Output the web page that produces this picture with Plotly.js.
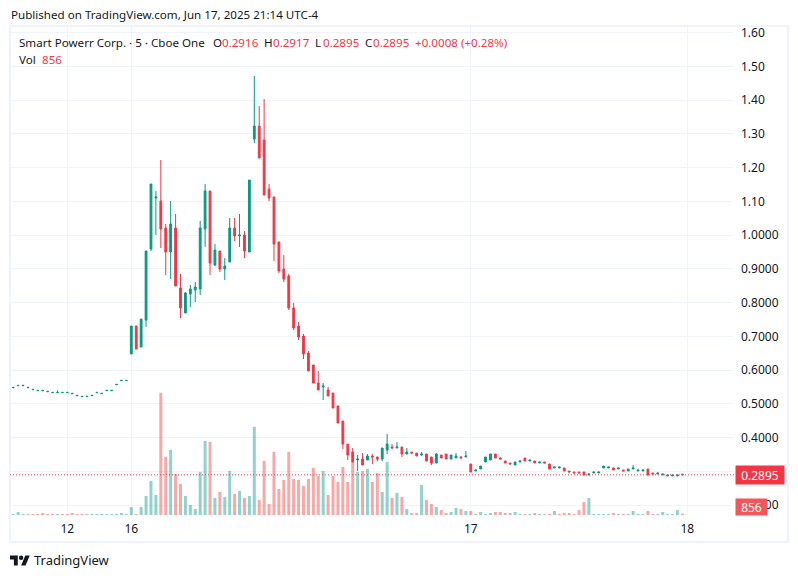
<!DOCTYPE html>
<html><head><meta charset="utf-8">
<script src="https://cdn.plot.ly/plotly-3.0.1.min.js"></script>
<style>html,body{margin:0;padding:0;background:#fff;width:798px;height:578px;overflow:hidden}#c{width:798px;height:578px}
#logo{position:absolute;left:10px;top:555px;width:20px;height:11px}</style>
</head><body><div id="c"></div>
<svg id="logo" viewBox="0 4 36 18"><path d="M14 22H7V11H0V4h14v18zM28 22h-8l7.5-18h8L28 22z" fill="#131722"/><circle cx="20" cy="8" r="4" fill="#131722"/></svg>
<script>
// Bars are counted from the first bar of the 16th (bar 0); the first bar drawn is -24.
var firstBar = -24;
var open = [
.5476,.5536,.5536,.5476,.5417,.5388,.5388,.5358,.5328,.5328,
.5328,.5328,.5299,.5239,.5210,.5210,.5239,.5328,.5299,.5388,
.5388,.5565,.5684,.5684,
.6475,.7305,.6683,.7483,.9586,1.1097,1.1009,1.0209,.9497,1.0209,
.8431,.7690,.8253,.8371,.8401,1.0179,1.1305,.9112,.9527,.8994,
.9201,1.0209,.9972,1.0001,.9497,1.2846,1.3231,1.2816,1.1364,1.1127,
.9794,.8994,.8786,.7838,.7305,.7009,.6505,.6150,.5616,.5498,
.5409,.5320,.4935,.4490,.3809,.3572,.3335,.3364,.3335,.3453,
.3424,.3364,.3631,.3720,.3690,.3720,.3512,.3572,.3542,.3483,
.3512,.3424,.3246,.3483,.3512,.3364,.3394,.3424,.3424,.3216,
.3009,.3068,.3276,.3335,.3513,.3394,.3305,.3246,.3187,.3276,
.3394,.3305,.3305,.3246,.3276,.3216,.3098,.3098,.3098,.3009,
.2979,.2979,.2979,.2890,.2950,.2950,.3098,.3098,.3098,.3068,
.3039,.3009,.3068,.3009,.3009,.3068,.2950,.2920,.2890,.2861,
.2861,.2861,.2916];
var high = [
.5486,.5546,.5546,.5486,.5427,.5398,.5398,.5368,.5338,.5398,
.5338,.5338,.5309,.5249,.5220,.5220,.5249,.5338,.5309,.5398,
.5398,.5575,.5694,.5694,
.7305,.7305,.7512,.9527,1.1512,1.1305,1.2223,1.0327,1.1009,1.0623,
.8846,.8312,.8520,.8609,1.0416,1.1512,1.1305,.9734,.9527,.9320,
1.0505,1.0505,1.0623,1.0120,1.1631,1.4712,1.3823,1.4031,1.1512,1.1127,
.9794,.9408,.8846,.7986,.7423,.7068,.6564,.6150,.5972,.5616,
.5498,.5320,.4935,.4490,.3809,.3690,.3483,.3542,.3512,.3512,
.3424,.3690,.4105,.3809,.3868,.3720,.3690,.3572,.3542,.3572,
.3512,.3424,.3542,.3483,.3512,.3483,.3542,.3453,.3601,.3216,
.3039,.3157,.3424,.3513,.3513,.3424,.3305,.3246,.3276,.3305,
.3394,.3335,.3305,.3276,.3276,.3216,.3127,.3127,.3098,.3009,
.2979,.2979,.2979,.2920,.2979,.2979,.3157,.3127,.3098,.3098,
.3039,.3068,.3187,.3039,.3039,.3068,.2950,.2950,.2920,.2890,
.2890,.2890,.2917];
var low = [
.5476,.5536,.5536,.5476,.5417,.5388,.5388,.5358,.5328,.5328,
.5328,.5328,.5299,.5239,.5210,.5210,.5239,.5328,.5299,.5388,
.5388,.5565,.5684,.5684,
.6475,.6623,.6683,.7275,.9527,1.0001,.9616,.8816,.8697,.8490,
.7542,.7690,.7868,.8016,.8223,.9646,.8816,.9083,.8905,.8668,
.9201,.9823,.9646,.9320,.9497,1.2727,1.2283,1.1186,1.1009,.9231,
.8875,.8609,.7779,.7186,.6890,.6327,.5972,.5616,.5409,.5112,
.5231,.4875,.4431,.3661,.3335,.3275,.3009,.3187,.3335,.3216,
.3305,.3305,.3512,.3690,.3690,.3424,.3512,.3512,.3453,.3453,
.3305,.3187,.3246,.3394,.3364,.3364,.3394,.3394,.3424,.2979,
.3009,.3068,.3276,.3335,.3394,.3364,.3246,.3216,.3187,.3276,
.3305,.3305,.3246,.3246,.3246,.3068,.3098,.3098,.3009,.2979,
.2950,.2950,.2890,.2890,.2950,.2950,.3098,.3098,.3039,.3068,
.3009,.3009,.3068,.3009,.3009,.2890,.2920,.2920,.2890,.2861,
.2861,.2861,.2895];
var close = [
.5486,.5546,.5546,.5486,.5427,.5398,.5398,.5368,.5338,.5338,
.5338,.5338,.5309,.5249,.5220,.5220,.5249,.5338,.5309,.5398,
.5398,.5575,.5694,.5694,
.7305,.6623,.7512,.9527,1.1512,1.1127,1.0179,.9497,1.0327,.8490,
.7838,.8283,.8401,.8460,1.0209,1.1305,.9171,.9557,.8994,.9083,
1.0209,.9972,1.0001,.9527,1.1631,1.3231,1.2283,1.1186,1.1097,.9734,
.8934,.8697,.7838,.7246,.6979,.6475,.5972,.5616,.5409,.5527,
.5231,.4875,.4431,.3809,.3483,.3275,.3364,.3187,.3453,.3424,
.3364,.3690,.3809,.3690,.3720,.3512,.3572,.3542,.3453,.3512,
.3305,.3246,.3512,.3394,.3364,.3483,.3453,.3394,.3453,.2979,
.3039,.3157,.3424,.3513,.3394,.3364,.3246,.3216,.3276,.3305,
.3305,.3335,.3246,.3276,.3246,.3068,.3127,.3127,.3009,.2979,
.2950,.2950,.2890,.2920,.2979,.2979,.3157,.3127,.3039,.3098,
.3009,.3068,.3098,.3039,.3039,.2890,.2920,.2950,.2920,.2890,
.2890,.2890,.2895];
var volume = [
570,1710,570,570,570,570,1140,570,570,570,
570,570,1140,570,570,570,570,570,570,570,
570,570,1140,570,
4560,570,4560,10830,19380,11400,69540,33060,37050,23370,
17670,10830,5700,3420,24510,42180,41610,9690,13110,10260,
25080,11970,13680,9690,10830,50160,8550,30780,6270,35910,
14820,19950,35910,20520,19950,16530,20520,26790,22230,25080,
11400,22230,18810,27360,18810,30210,24510,25080,26220,18810,
23940,13110,30210,9690,12540,10260,3420,1140,1140,17100,
8550,6270,4560,2850,1140,1710,3990,3420,2280,2280,
570,1710,570,1140,1710,1710,1140,1140,1710,570,
570,570,1140,570,570,570,2280,570,1140,1140,
570,2850,7410,9690,570,570,570,570,1140,570,
570,570,2280,570,570,2280,570,570,1710,570,
570,2850,856];
var volumeIsUp = [
1,1,1,0,0,0,0,0,0,1,
0,0,0,0,0,1,1,1,1,1,
1,1,1,1,
1,0,1,1,1,1,0,0,1,0,
0,1,1,1,1,1,0,1,0,1,
1,0,1,0,1,1,0,0,0,0,
0,0,0,0,0,0,0,0,0,1,
0,0,0,0,0,0,1,0,1,0,
0,1,1,0,1,0,1,0,0,1,
0,0,1,0,0,1,1,0,1,0,
1,1,1,1,0,0,0,0,1,1,
0,1,0,1,0,0,1,0,0,0,
0,0,0,1,1,1,1,1,0,1,
0,1,1,1,1,0,0,1,1,1,
1,1,0];
var priceTicks = [1.6,1.5,1.4,1.3,1.2,1.1,1.0,0.9,0.8,0.7,0.6,0.5,0.4,0.3,0.2];
var priceLabels = ["1.60","1.50","1.40","1.30","1.20","1.10","1.0000","0.9000","0.8000","0.7000","0.6000","0.5000","0.4000","","0.2000"];
var timeTicks = [-13,0,69,113];
var timeLabels = ["12","16","17","18"];
var lastClose = 0.2895;
var lastVolume = "856";

var UP="#089981", DOWN="#F23645", INK="#131722", GRID="#F0F3FA";
var FONT='"Noto Sans", "Open Sans", sans-serif';
var W=798,H=578,L=11,R=733,T=27,B=517;
var fx=function(p){return (p-L)/(R-L)}, fy=function(p){return (B-p)/(B-T)};
var bars=[];for(var i=0;i<open.length;i++)bars.push(firstBar+i);

function note(text,x,y,opt){opt=opt||{};return Object.assign({text:text,xref:'paper',yref:'paper',x:fx(x),y:fy(y),xanchor:opt.xa||'left',yanchor:'middle',showarrow:false,align:opt.xa||'left',
 font:{family:FONT,size:opt.size||11.6,color:opt.color||INK},borderpad:0},opt.extra||{});}
var legendParts=[["Smart Powerr Corp. · 5 · Cboe One",18,INK],["O",212,INK],["0.2916",221,DOWN],["H",263,INK],["0.2917",272,DOWN],["L",314,INK],["0.2895",322,DOWN],["C",364,INK],["0.2895",372,DOWN],["+0.0008 (+0.28%)",414,DOWN]];
var anns=[note("Published on TradingView.com, Jun 17, 2025 21:14 UTC-4",10,15),note("Vol",18,59),note(lastVolume,41,59,{color:DOWN}),note("TradingView",33,560,{size:13})];
legendParts.forEach(function(p){anns.push(note(p[0],p[1],42,{color:p[2]}));});
anns.push(note(lastClose.toFixed(4),735,475,{color:"#fff",size:12,extra:{bgcolor:DOWN,width:48,height:18,align:'center'}}));
anns.push(note(lastVolume,735,507,{color:"#fff",size:12,extra:{bgcolor:"#F0565A",width:31,height:16,align:'center'}}));

var priceMin=1.1-(B-201.3)/337.5, priceMax=1.1+(201.3-T)/337.5;
var perPx=568.6;
var data=[
 {type:'bar',x:bars,y:volume,width:0.61,yaxis:'y',hoverinfo:'skip',
  marker:{color:volumeIsUp.map(function(u){return u?'rgba(38,166,154,0.5)':'rgba(239,83,80,0.5)'}),line:{width:0}}},
 {type:'candlestick',x:bars,open:open,high:high,low:low,close:close,yaxis:'y2',whiskerwidth:0,hoverinfo:'skip',
  increasing:{line:{color:UP,width:1},fillcolor:UP},decreasing:{line:{color:DOWN,width:1},fillcolor:DOWN}}
];
var layout={width:W,height:H,margin:{l:L,r:W-R,t:T,b:H-B,pad:0},paper_bgcolor:'#fff',plot_bgcolor:'#fff',showlegend:false,hovermode:false,dragmode:false,boxgap:0.48,
 font:{family:FONT,size:12,color:INK},
 xaxis:{range:[(L-131.3)/4.92,(R-131.3)/4.92],tickmode:'array',tickvals:timeTicks,ticktext:timeLabels,showgrid:true,gridcolor:GRID,gridwidth:1,zeroline:false,showline:false,ticks:'',ticklabelstandoff:3,rangeslider:{visible:false},fixedrange:true,tickfont:{family:FONT,size:12,color:INK}},
 yaxis:{range:[-(B-515)*perPx,(515-T)*perPx],visible:false,fixedrange:true},
 yaxis2:{overlaying:'y',side:'right',anchor:'x',range:[priceMin,priceMax],tickmode:'array',tickvals:priceTicks,ticktext:priceLabels,showgrid:true,gridcolor:GRID,gridwidth:1,zeroline:false,showline:false,ticks:'',ticklabelstandoff:7,fixedrange:true,tickfont:{family:FONT,size:12,color:INK}},
 shapes:[
  {type:'rect',xref:'paper',yref:'paper',x0:fx(10),x1:fx(788),y0:fy(26),y1:fy(542),line:{color:GRID,width:2},layer:'below'},
  {type:'line',xref:'paper',yref:'y2',x0:fx(10),x1:fx(735),y0:lastClose,y1:lastClose,line:{color:DOWN,width:1,dash:'1px,2px'}}
 ],
 annotations:anns};
Plotly.newPlot('c',data,layout,{staticPlot:true,displayModeBar:false});
</script></body></html>
